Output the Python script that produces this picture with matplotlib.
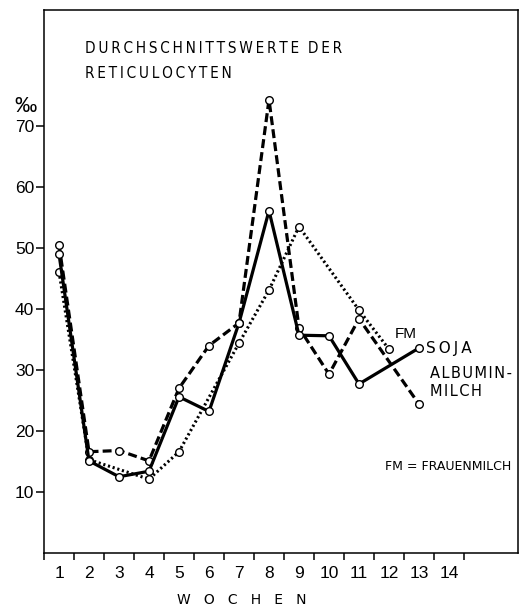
import matplotlib
matplotlib.use("Agg")
import matplotlib.pyplot as plt

wochen_soja = [1, 2, 3, 4, 5, 6, 7, 8, 9, 10, 11, 13]
soja = [49.0, 15.1, 12.5, 13.4, 25.6, 23.2, 37.7, 56.1, 35.7, 35.6, 27.7, 33.6]

wochen_alb = [1, 2, 3, 4, 5, 6, 7, 8, 9, 10, 11, 13]
albumin = [50.5, 16.6, 16.8, 15.1, 27.0, 34.0, 37.7, 74.3, 36.9, 29.3, 38.4, 24.4]

wochen_fm = [1, 2, 4, 5, 7, 8, 9, 11, 12]
fm = [46.1, 15.3, 12.1, 16.6, 34.4, 43.1, 53.5, 39.8, 33.4]

y_ticks = [10, 20, 30, 40, 50, 60, 70]
x_labels = list(range(1, 15))


def sperr(t, sp='\u2009'):
    # gesperrte Schrift wie im Original
    return sp.join(t)


plt.rcParams['font.family'] = ['Liberation Sans', 'DejaVu Sans']

fig = plt.figure(figsize=(5.25, 6.08), dpi=100)
ax = fig.add_axes([44/525, 1-553/608, (518-44)/525, (553-10)/608])

mk = dict(marker='o', markersize=5.5, markerfacecolor='white',
          markeredgecolor='black', markeredgewidth=1.0)

ax.plot(wochen_fm, fm, color='black', lw=2.2, dashes=(0.7, 0.9),
        dash_capstyle='butt', zorder=2, **mk)
ax.plot(wochen_alb, albumin, color='black', lw=2.3, dashes=(2.8, 1.3),
        dash_capstyle='butt', zorder=3, **mk)
ax.plot(wochen_soja, soja, color='black', lw=2.3, zorder=4, **mk)

ax.set_xlim(0.5, 16.3)
ax.set_ylim(0, 89)

ax.set_yticks(y_ticks)
ax.set_yticklabels([str(v) for v in y_ticks], fontsize=12.5)
ax.tick_params(axis='y', direction='out', length=6, width=1.1, pad=1)

ax.set_xticks([k + 0.5 for k in range(0, 15)])
ax.set_xticklabels([])
ax.set_xticks(x_labels, minor=True)
ax.set_xticklabels([str(v) for v in x_labels], minor=True, fontsize=12.5)
ax.tick_params(axis='x', which='major', direction='out', length=5, width=1.1)
ax.tick_params(axis='x', which='minor', length=0, pad=9)

for s in ax.spines.values():
    s.set_linewidth(1.1)

tf = dict(fontsize=11, family='DejaVu Sans', fontstretch='condensed')
fig.text(85/525, 1-53/608, sperr('DURCHSCHNITTSWERTE') + '  ' + sperr('DER'), **tf)
fig.text(85/525, 1-78/608, sperr('RETICULOCYTEN'), **tf)
fig.text(14/525, 1-112/608, '‰', fontsize=16)

ax.annotate('FM', (12, 33.4), xytext=(4, 6), textcoords='offset points',
            fontsize=11, va='bottom')
ax.annotate(sperr('SOJA'), (13, 33.6), xytext=(5, 0), textcoords='offset points',
            fontsize=11, va='center', family='DejaVu Sans')
ax.annotate(sperr('ALBUMIN-', '\u200a') + '\n' + sperr('MILCH', '\u200a'), (13, 24.4),
            xytext=(8, 4), textcoords='offset points', fontsize=10.5, va='bottom',
            family='DejaVu Sans', linespacing=1.2)
fig.text(385/525, 1-470/608, 'FM = FRAUENMILCH', fontsize=9, family='DejaVu Sans')
fig.text(242/525, 1-604/608, 'W   O   C   H   E   N', fontsize=10, ha='center',
         family='DejaVu Sans')

fig.savefig('out.png', dpi=100)
